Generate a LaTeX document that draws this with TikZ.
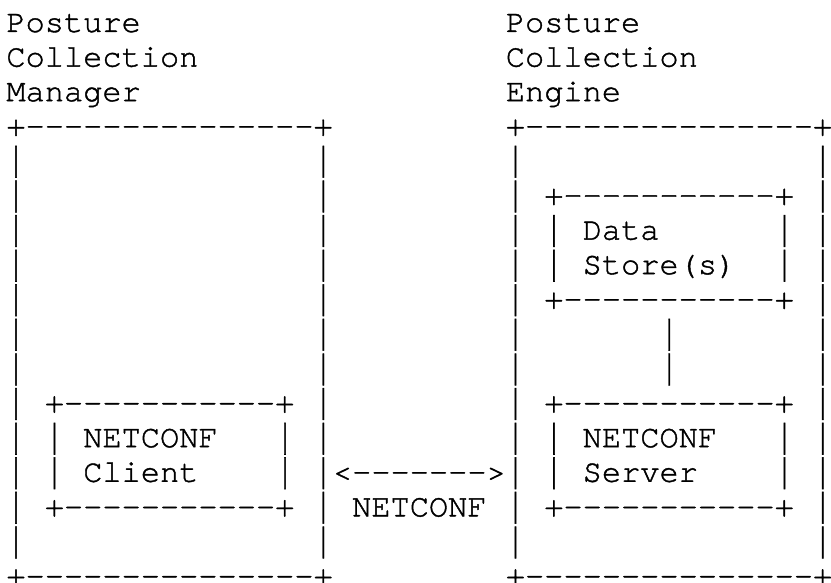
\documentclass[tikz,border=0pt]{standalone}
\usepackage{fontspec}
\usepackage{graphicx}
\newfontfamily\cursorfam{TeX Gyre Cursor}[Ligatures=TeXOff, FakeBold=1.2]
\newcommand\asciifont{\cursorfam\fontsize{32}{34.6}\selectfont}
\newcommand\dashrun[1]{\foreach\i in {1,...,#1}{-}}
\newcommand\vbar{\raisebox{-7.3pt}{\resizebox*{19.21pt}{31.7pt}{\raisebox{\depth}{|}}}}
\begin{document}
\begin{tikzpicture}[x=19.21pt, y=-34.6pt,
  ch/.style={font=\asciifont, inner sep=0pt, outer sep=0pt, anchor=base west}]
\useasboundingbox (0pt,0pt) rectangle (831pt,-583pt);
\begin{scope}[shift={(6.4pt,-32pt)}]
% titles
\node[ch] (mgrT1) at (0,0) {Posture};
\node[ch] (mgrT2) at (0,1) {Collection};
\node[ch] (mgrT3) at (0,2) {Manager};
\node[ch] (engT1) at (26,0) {Posture};
\node[ch] (engT2) at (26,1) {Collection};
\node[ch] (engT3) at (26,2) {Engine};
% outer boxes
\node[ch] (mgrTop) at (0,3) {+\dashrun{15}+};
\node[ch] (mgrBot) at (0,16) {+\dashrun{15}+};
\node[ch] (engTop) at (26,3) {+\dashrun{15}+};
\node[ch] (engBot) at (26,16) {+\dashrun{15}+};
\foreach \r in {4,...,15}{
  \node[ch] (mgrL\r) at (0,\r) {\vbar};
  \node[ch] (mgrR\r) at (16,\r) {\vbar};
  \node[ch] (engL\r) at (26,\r) {\vbar};
  \node[ch] (engR\r) at (42,\r) {\vbar};
}
% NETCONF client
\node[ch] (cliTop) at (2,11) {+\dashrun{11}+};
\node[ch] (cliBot) at (2,14) {+\dashrun{11}+};
\foreach \r in {12,13}{
  \node[ch] (cliL\r) at (2,\r) {\vbar};
  \node[ch] (cliR\r) at (14,\r) {\vbar};
}
\node[ch] (cli1) at (4,12) {NETCONF};
\node[ch] (cli2) at (4,13) {Client};
% data store
\node[ch] (dsTop) at (28,5) {+\dashrun{11}+};
\node[ch] (dsBot) at (28,8) {+\dashrun{11}+};
\foreach \r in {6,7}{
  \node[ch] (dsL\r) at (28,\r) {\vbar};
  \node[ch] (dsR\r) at (40,\r) {\vbar};
}
\node[ch] (ds1) at (30,6) {Data};
\node[ch] (ds2) at (30,7) {Store(s)};
% NETCONF server
\node[ch] (srvTop) at (28,11) {+\dashrun{11}+};
\node[ch] (srvBot) at (28,14) {+\dashrun{11}+};
\foreach \r in {12,13}{
  \node[ch] (srvL\r) at (28,\r) {\vbar};
  \node[ch] (srvR\r) at (40,\r) {\vbar};
}
\node[ch] (srv1) at (30,12) {NETCONF};
\node[ch] (srv2) at (30,13) {Server};
% link data store - server
\node[ch] (lnk1) at (34,9) {\vbar};
\node[ch] (lnk2) at (34,10) {\vbar};
% protocol arrow
\node[ch] (arrow) at (17,13) {<\dashrun{7}>};
\node[ch] (proto) at (18,14) {NETCONF};
\end{scope}
\end{tikzpicture}
\end{document}
